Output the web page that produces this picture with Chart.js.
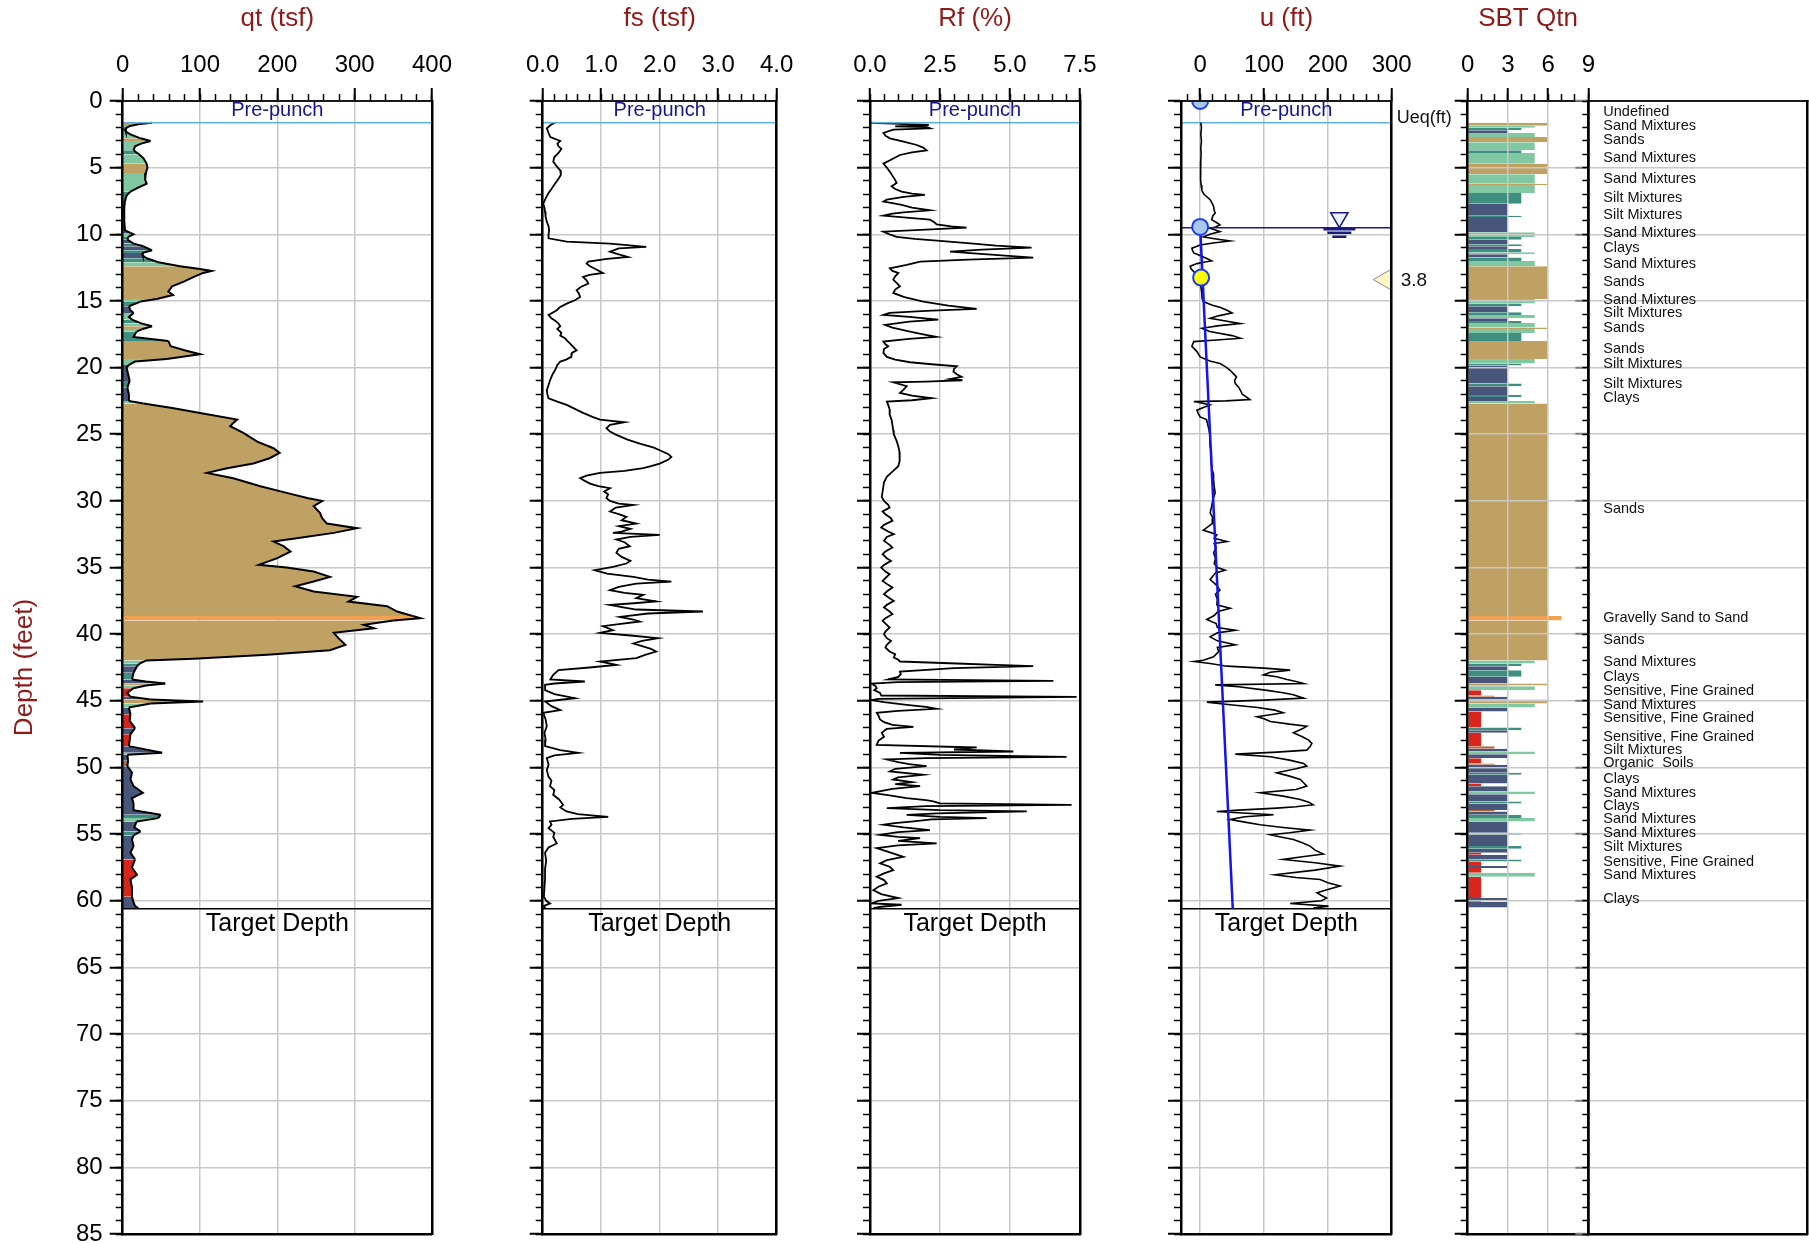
<!DOCTYPE html>
<html><head><meta charset="utf-8"><title>CPT log</title>
<script src="https://cdn.jsdelivr.net/npm/chart.js@4.4.1/dist/chart.umd.min.js"></script>
<style>
html,body{margin:0;padding:0;background:#fff}
#wrap{position:relative;width:1809px;height:1243px;overflow:hidden;background:#fff}
#wrap canvas{position:absolute;left:0;top:0}
</style></head><body><div id="wrap"></div>
<script>
// ---------------- DATA ----------------
const prePunchDepth = 1.63;
const targetDepth = 60.6;
const waterTableDepth = 9.5;

const qtDepth = [
1.63,1.75,1.9,2.1,2.3,2.5,2.8,3.0,3.2,3.4,
3.7,4.0,4.3,4.7,5.0,5.4,5.9,6.2,6.5,6.8,
7.1,7.5,8.0,9.0,9.7,9.9,10.0,10.2,10.4,10.7,
10.9,11.2,11.4,11.6,11.8,12.1,12.4,12.6,12.75,12.9,
13.2,13.55,13.9,14.3,14.55,14.85,15.05,15.4,15.7,15.9,
16.2,16.4,16.7,16.9,17.1,17.3,17.7,18.0,18.4,18.7,
19.0,19.2,19.35,19.55,19.8,20.0,20.5,21.0,21.5,22.0,
22.5,22.7,23.05,23.4,23.9,24.15,24.4,24.9,25.55,26.05,
26.4,26.8,27.2,27.55,27.9,28.3,28.9,29.4,29.8,30.0,
30.4,30.9,31.3,31.7,32.05,32.4,32.8,33.05,33.4,33.8,
34.3,34.8,35.0,35.3,35.7,36.05,36.4,36.8,37.2,37.55,
37.9,38.3,38.63,38.8,38.98,39.3,39.55,39.9,40.3,40.8,
41.2,41.55,41.85,41.98,42.2,42.4,42.9,43.4,43.55,43.7,
43.85,44.05,44.4,44.7,44.9,45.05,45.2,45.5,46.0,46.5,
47.05,47.5,48.0,48.4,48.9,49.05,49.5,49.9,50.4,50.9,
51.4,51.9,52.3,52.7,53.2,53.55,53.8,54.05,54.5,54.8,
55.1,55.4,55.9,56.4,56.9,57.5,58.05,58.4,59.0,59.7,
60.1,60.4,60.55];
const qtValue = [
38,20,8,3,4,10,23,36,24,16,
14,21,27,31,32,30,29,31,20,10,
5,3,2,2,3,10,14,7,6,14,
27,38,25,26,31,46,74,100,115,104,
92,79,64,59,65,44,23,8,10,14,
8,12,25,38,26,18,14,59,62,80,
100,75,57,16,8,5,7,9,6,8,
8,27,66,100,148,143,139,156,174,195,
203,190,169,135,109,143,178,212,240,258,
247,255,258,264,303,273,225,195,208,217,
200,176,212,247,268,247,223,247,303,292,
342,355,375,385,350,312,325,273,279,288,
268,187,92,30,22,18.5,14,12,30,55,
30,14,6,10,36,104,36,8,10,9,
16,10,9,8,51,6,7,6,12,10,
14,26,12,14,14,49,46,18,15,23,
14,12,14,10,16,12,18.5,10,12,12,
14,16,20];

const fsDepth = [
1.63,1.75,2.05,2.4,2.7,3.0,3.2,3.4,3.6,3.9,
4.2,4.55,4.9,5.2,5.55,5.9,6.2,6.6,6.9,7.3,
7.7,8.0,8.3,8.7,9.05,9.4,9.7,10.0,10.3,10.55,
10.7,10.95,11.05,11.3,11.5,11.7,11.85,12.05,12.2,12.4,
12.6,12.9,13.05,13.2,13.45,13.7,13.95,14.2,14.45,14.7,
14.95,15.2,15.45,15.7,16.05,16.3,16.5,16.7,16.9,17.1,
17.4,17.6,17.8,18.0,18.2,18.45,18.7,18.9,19.2,19.4,
19.55,19.8,20.2,20.5,20.9,21.3,21.7,22.0,22.3,22.55,
22.8,23.1,23.4,23.7,23.9,24.1,24.3,24.55,24.8,25.05,
25.4,25.7,26.0,26.2,26.5,26.7,26.9,27.2,27.4,27.55,
27.75,27.9,28.1,28.3,28.5,28.7,28.9,29.05,29.3,29.5,
29.8,30.0,30.2,30.3,30.5,30.8,31.0,31.2,31.45,31.7,
31.9,32.1,32.3,32.4,32.55,32.7,32.9,33.1,33.4,33.6,
33.9,34.2,34.5,34.7,34.95,35.2,35.45,35.7,35.9,36.05,
36.2,36.45,36.7,36.9,37.05,37.3,37.55,37.7,37.8,38.0,
38.15,38.3,38.45,38.7,38.9,39.05,39.25,39.4,39.7,39.9,
40.1,40.3,40.5,40.7,40.9,41.1,41.3,41.55,41.8,42.05,
42.3,42.5,42.7,43.05,43.4,43.55,43.7,43.8,44.2,44.5,
44.8,45.05,45.4,45.7,45.9,46.4,46.9,47.4,47.9,48.4,
48.7,48.9,49.1,49.3,49.8,50.2,50.7,51.0,51.4,51.7,
52.05,52.4,52.8,53.0,53.3,53.5,53.7,53.85,54.05,54.3,
54.55,54.9,55.2,55.7,56.0,56.4,57.0,57.6,58.4,59.0,
59.7,60.0,60.2,60.4,60.55];
const fsValue = [
0.21,0.15,0.07,0.1,0.13,0.3,0.25,0.27,0.32,0.27,
0.2,0.18,0.24,0.3,0.31,0.26,0.21,0.15,0.1,0.05,
0.01,0.03,0.04,0.05,0.07,0.1,0.11,0.1,0.1,0.41,
1.15,1.77,1.3,1.15,1.3,1.46,1.1,0.78,0.75,0.81,
0.9,1.03,0.8,0.69,0.75,0.78,0.65,0.58,0.62,0.64,
0.55,0.41,0.3,0.24,0.1,0.15,0.22,0.27,0.3,0.25,
0.32,0.3,0.38,0.42,0.47,0.52,0.58,0.5,0.49,0.4,
0.3,0.25,0.21,0.17,0.13,0.1,0.07,0.08,0.1,0.25,
0.41,0.55,0.69,0.85,0.98,1.4,1.15,1.09,1.15,1.26,
1.45,1.66,1.9,2.0,2.15,2.2,2.15,2.0,1.85,1.72,
1.4,0.98,0.75,0.64,0.72,0.81,0.95,1.15,1.05,1.12,
1.09,1.15,1.3,1.55,1.25,1.15,1.3,1.43,1.35,1.6,
1.3,1.5,1.35,1.2,2.0,1.5,1.26,1.4,1.49,1.3,
1.26,1.35,1.5,1.43,1.2,0.89,1.1,1.55,1.8,2.2,
1.6,1.3,1.15,1.4,1.72,1.6,1.94,1.5,1.15,1.4,
1.6,2.74,1.8,1.32,1.55,1.66,1.3,1.03,1.2,0.98,
1.5,1.97,1.7,1.55,1.7,1.85,1.94,1.75,1.6,0.98,
1.26,0.8,0.27,0.18,0.13,0.72,0.2,0.04,0.04,0.2,
0.55,0.04,0.15,0.3,0.01,0.05,0.07,0.03,0.05,0.04,
0.3,0.61,0.2,0.07,0.1,0.07,0.1,0.15,0.125,0.2,
0.18,0.28,0.35,0.3,0.41,0.6,1.12,0.5,0.125,0.15,
0.1,0.2,0.18,0.24,0.1,0.04,0.06,0.04,0.04,0.03,
0.02,0.06,0.125,0.01,0.05];

const rfDepth = [
1.63,1.7,1.8,1.9,1.95,2.05,2.15,2.4,2.6,2.8,
3.05,3.3,3.5,3.7,3.85,4.05,4.35,4.7,5.0,5.3,
5.6,5.9,6.15,6.4,6.6,6.8,6.95,7.05,7.2,7.4,
7.55,7.7,7.8,8.0,8.2,8.35,8.45,8.6,8.75,8.9,
9.1,9.25,9.4,9.5,9.65,9.8,10.0,10.2,10.35,10.5,
10.7,10.85,11.0,11.15,11.3,11.5,11.75,11.9,12.05,12.3,
12.55,12.75,12.9,13.15,13.4,13.65,13.9,14.15,14.4,14.7,
15.05,15.35,15.6,15.75,15.9,16.05,16.2,16.4,16.55,16.8,
17.0,17.3,17.5,17.7,17.85,18.05,18.25,18.4,18.6,18.9,
19.2,19.4,19.6,19.75,19.9,20.1,20.3,20.5,20.7,20.85,
20.95,21.05,21.1,21.4,21.65,21.9,22.1,22.3,22.45,22.55,
22.8,23.2,23.5,23.9,24.3,24.7,25.0,25.5,25.9,26.3,
26.7,27.0,27.4,27.8,28.2,28.6,28.9,29.3,29.7,30.0,
30.3,30.5,30.8,31.0,31.3,31.5,31.8,32.0,32.3,32.5,
32.7,33.0,33.3,33.5,33.8,34.0,34.3,34.5,34.8,35.0,
35.3,35.5,35.8,36.0,36.3,36.5,36.8,37.0,37.3,37.5,
37.8,38.0,38.3,38.5,38.8,39.0,39.3,39.5,39.8,40.0,
40.3,40.5,40.8,41.0,41.3,41.5,41.75,41.9,42.05,42.2,
42.3,42.4,42.55,42.8,43.0,43.2,43.4,43.5,43.6,43.7,
43.9,44.05,44.2,44.4,44.6,44.7,44.85,44.95,45.1,45.3,
45.45,45.6,45.75,45.9,46.1,46.4,46.6,46.8,46.95,47.1,
47.4,47.7,48.0,48.3,48.5,48.65,48.8,48.9,49.05,49.2,
49.3,49.4,49.6,49.75,49.9,50.1,50.3,50.55,50.75,50.9,
51.1,51.25,51.4,51.6,51.9,52.1,52.3,52.45,52.55,52.7,
52.8,52.9,53.05,53.2,53.3,53.45,53.55,53.7,53.8,53.9,
54.05,54.2,54.3,54.5,54.7,54.85,55.05,55.2,55.3,55.5,
55.7,55.85,56.05,56.3,56.5,56.7,56.95,57.2,57.45,57.7,
57.95,58.2,58.45,58.7,58.95,59.2,59.5,59.8,60.0,60.2,
60.3,60.45,60.55];
const rfValue = [
0,0.83,2.1,0.9,2.0,2.14,0.83,0.48,0.55,0.71,
1.2,1.67,1.9,2.02,1.5,1.07,0.8,0.48,0.6,0.71,
0.8,0.89,0.95,0.77,0.9,1.13,1.5,1.96,1.2,0.6,
0.48,0.9,1.13,1.5,2.14,1.2,0.8,0.48,1.3,2.14,
2.3,2.38,2.9,3.45,2.0,0.48,0.7,0.95,1.6,2.5,
3.69,4.5,5.77,4.0,2.86,4.2,5.83,3.5,1.79,1.31,
0.71,0.8,1.01,0.9,0.83,0.95,1.07,0.9,0.83,1.2,
1.9,2.8,3.81,2.0,0.7,0.48,1.4,2.44,1.4,0.54,
0.8,1.43,1.9,2.38,1.4,0.48,0.55,0.65,0.5,0.48,
0.6,0.9,1.43,2.2,3.1,3.0,2.98,3.1,3.27,2.86,
3.3,2.0,0.83,1.31,1.2,1.07,1.5,2.2,1.5,0.6,
0.65,0.71,0.7,0.77,0.8,0.83,0.85,0.95,1.01,1.05,
1.07,1.05,1.01,0.8,0.6,0.5,0.48,0.45,0.42,0.5,
0.65,0.7,0.45,0.55,0.75,0.8,0.5,0.4,0.65,0.85,
0.6,0.5,0.7,0.8,0.55,0.45,0.6,0.75,0.5,0.4,
0.55,0.7,0.55,0.45,0.65,0.8,0.6,0.5,0.7,0.85,
0.6,0.5,0.7,0.8,0.55,0.45,0.6,0.7,0.55,0.5,
0.6,0.75,0.6,0.55,0.7,0.9,0.85,1.0,1.07,3.1,
4.5,5.83,3.0,1.07,1.1,1.01,0.65,6.55,1.0,0.06,
0.2,0.24,0.15,0.36,0.4,7.38,0.3,0.06,0.5,1.31,
2.0,2.38,1.0,0.24,0.3,0.36,0.5,0.8,1.55,0.6,
0.42,0.5,0.3,0.24,3.81,3.0,5.12,1.07,2.5,7.02,
2.0,0.6,1.0,1.4,2.02,0.9,0.71,1.9,1.0,0.83,
1.5,0.9,1.79,0.8,0.06,0.7,1.31,2.0,2.26,2.5,
7.2,2.0,0.6,2.5,5.6,2.4,1.31,2.5,4.17,2.2,
1.55,0.8,0.48,1.2,2.14,1.0,0.36,1.0,1.79,1.0,
2.38,1.0,0.24,0.6,0.9,1.19,0.6,0.36,0.7,0.83,
0.5,0.24,0.5,0.6,0.3,0.12,0.4,1.01,0.3,0.06,
1.13,0.4,0.12];

const uDepth = [
1.63,2.0,2.5,3.0,3.5,4.0,4.5,5.0,5.5,5.9,
6.3,6.7,7.0,7.4,7.7,7.9,8.2,8.4,8.6,8.9,
9.1,9.3,9.45,9.55,9.7,9.8,10.0,10.2,10.35,10.5,
10.65,10.8,11.05,11.2,11.4,11.55,11.7,11.85,12.0,12.1,
12.2,12.4,12.6,12.8,13.1,13.4,13.9,14.4,14.8,15.05,
15.3,15.5,15.7,15.9,16.1,16.3,16.5,16.7,16.85,17.05,
17.3,17.6,17.8,17.95,18.05,18.4,18.8,19.2,19.5,19.7,
19.95,20.2,20.45,20.7,20.95,21.2,21.45,21.7,22.0,22.2,
22.4,22.5,22.55,22.65,22.8,23.0,23.2,23.45,23.7,23.9,
24.3,24.7,25.2,25.7,26.2,26.7,27.2,27.7,28.0,28.4,
28.9,29.4,29.9,30.4,30.9,31.3,31.7,32.2,32.4,32.55,
32.8,33.05,33.2,33.5,33.9,34.3,34.7,35.0,35.2,35.4,
35.9,36.3,36.7,37.0,37.4,37.8,38.05,38.3,38.6,38.9,
39.2,39.5,39.7,39.9,40.2,40.5,40.8,41.0,41.3,41.7,
41.95,42.05,42.2,42.4,42.55,42.7,42.85,43.05,43.2,43.4,
43.55,43.7,43.8,43.95,44.2,44.4,44.55,44.8,44.95,45.1,
45.3,45.5,45.7,45.9,46.05,46.2,46.35,46.55,46.75,46.9,
47.1,47.4,47.7,47.95,48.2,48.45,48.7,48.85,49.0,49.2,
49.45,49.7,49.9,50.1,50.4,50.65,50.9,51.15,51.4,51.65,
51.9,52.15,52.4,52.6,52.8,52.95,53.05,53.2,53.3,53.45,
53.55,53.7,53.9,54.1,54.3,54.5,54.7,54.9,55.05,55.25,
55.4,55.65,55.9,56.2,56.5,56.7,56.9,57.15,57.4,57.7,
58.05,58.25,58.4,58.65,58.9,59.15,59.4,59.6,59.8,60.0,
60.2,60.4,60.55];
const uValue = [
1,2,1,2,1,1.5,1,0.5,1,0.5,
1.5,2.6,6,15.7,19,21,22,23.5,20,18,
25,31,24,15.7,25,31,15,5,25,47,
20,0,-13,-12,-10,-2,5,12,18,5,
-5,-15.7,-14,-10,-4,0,1,2.6,3,5,
18,32,42,50,30,15.7,40,63,30,2.6,
15,50,63,20,-10,-13,-5,0,15,31,
40,47,52,57,54,55,60,63,66,72,
78,40,-10,2,15.7,5,-5,-3,0,10,
12,14,16,15,17,18,17,19,21,21,
22,23.5,20,18,15.7,20,19,5,18,26,
22,42,22,25,21,24,22,27,39,24,
15.7,25,31,24,27,26,47,28,22,10.4,
25,27,55,27,15.7,27,55,27,29,21,
5,-10,15.7,42,100,141,110,99,120,136,
150,162,23.5,60,102,130,146,162,100,10.4,
47,90,117,130,110,89,100,110,140,167,
160,146,160,170,175,172,167,120,55,110,
140,162,167,150,120,140,157,162,167,150,
94,130,157,170,177,150,120,60,26,80,
115,70,47,70,94,130,172,140,110,130,
146,160,172,180,193,160,130,180,219,180,
117,150,188,200,219,200,183,190,198,190,
141,201,177];

// hydrostatic pressure line (ft of water), from water table to target depth
const hydroDepth = [9.5, 60.6];
const hydroU = [0, 51.1];
// dissipation / water-table markers
const markerDepth = [0, 9.45];
const markerU = [0, 0];
const ueqDepth = 13.4;
const ueqValue = 3.8;
const yellowDepth = [13.25];
const yellowU = [1.5];

// SBT Qtn layers (top depth of each layer, zone number); last layer ends at sbtEnd
const sbtTop = [
1.63,1.85,2.0,2.2,2.4,2.7,3.1,3.7,3.9,4.7,
5.5,6.2,6.3,6.9,7.7,8.6,8.7,9.85,10.2,10.4,
10.75,10.9,11.1,11.35,11.5,11.75,12.0,12.4,14.85,15.2,
15.4,15.85,16.05,16.3,16.5,16.65,17.0,17.1,17.4,18.0,
19.35,19.7,19.85,21.2,21.4,22.05,22.2,22.5,22.7,38.63,
38.98,41.98,42.2,42.4,42.7,43.2,43.7,43.85,43.9,44.2,
44.6,44.7,44.9,45.2,45.5,45.8,47.0,47.2,47.4,48.4,
48.6,48.8,49.0,49.3,49.7,49.8,50.4,50.55,51.2,51.4,
51.8,52.0,52.55,52.7,53.2,53.3,53.55,53.8,54.05,54.9,
55.05,55.9,56.1,56.4,56.55,56.9,57.05,57.4,57.55,57.9,
58.2,59.8,60.0,60.1];
const sbtZone = [
6,5,4,3,5,6,5,4,5,6,
5,6,5,4,3,4,3,5,4,3,
4,3,4,5,3,4,5,6,5,4,
3,4,5,3,4,5,6,5,4,6,
5,4,3,4,3,4,3,5,6,7,
6,5,4,3,4,3,6,3,5,1,
2,3,6,5,3,1,4,3,1,2,
3,5,3,1,2,3,4,3,1,3,
5,3,4,3,2,3,4,5,3,4,
3,4,3,1,3,4,1,3,1,5,
1,3,1,3];
const sbtEnd = 60.5;

const sbtLabelDepth = [0.8,1.9,2.9,4.25,5.85,7.3,8.55,9.9,11.05,12.2,
13.6,14.9,15.9,17.05,18.6,19.7,21.2,22.3,30.6,38.75,
40.4,42.05,43.25,44.3,45.3,46.3,47.7,48.7,49.7,50.85,
51.9,52.9,53.9,54.9,56.0,57.1,58.1,59.9];
const sbtLabelText = ['Undefined','Sand Mixtures','Sands','Sand Mixtures','Sand Mixtures','Silt Mixtures','Silt Mixtures','Sand Mixtures','Clays','Sand Mixtures',
'Sands','Sand Mixtures','Silt Mixtures','Sands','Sands','Silt Mixtures','Silt Mixtures','Clays','Sands','Gravelly Sand to Sand',
'Sands','Sand Mixtures','Clays','Sensitive, Fine Grained','Sand Mixtures','Sensitive, Fine Grained','Sensitive, Fine Grained','Silt Mixtures','Organic  Soils','Clays',
'Sand Mixtures','Clays','Sand Mixtures','Sand Mixtures','Silt Mixtures','Sensitive, Fine Grained','Sand Mixtures','Clays'];

// ---------------- STYLE / LAYOUT ----------------
const W = 1809, H = 1243, CANVAS_H = 1320, PLOT_TOP = 101, PLOT_BOTTOM = 1234;
const FONT = '"Liberation Sans", Arial, Helvetica, sans-serif';
const TITLE_COLOR = '#8e1a1a';
const GRID = '#c8c8c8';
const zoneColor = {1:'#d8261d', 2:'#b5683b', 3:'#47567a', 4:'#3f8f80', 5:'#7fc8a1', 6:'#bfa164', 7:'#f0a04e'};

Chart.defaults.font.family = FONT;
Chart.defaults.color = '#000';

function zoneAt(d) {
  let z = sbtZone[0];
  for (let i = 0; i < sbtTop.length; i++) { if (sbtTop[i] <= d) z = sbtZone[i]; else break; }
  return z;
}
const pts = (depths, values) => depths.map((d, i) => ({x: values[i], y: d}));

function makeCanvas() {
  const c = document.createElement('canvas');
  c.width = W; c.height = CANVAS_H;
  c.style.width = W + 'px'; c.style.height = CANVAS_H + 'px';
  document.getElementById('wrap').appendChild(c);
  return c;
}

function decorPlugin(o) {
  return {
    id: 'decor',
    afterDraw(chart) {
      const {ctx, chartArea: a} = chart;
      const y = chart.scales.y;
      const cx = (a.left + a.right) / 2;
      ctx.save();
      ctx.textAlign = 'center';
      ctx.textBaseline = 'middle';
      if (o.title) {
        ctx.font = '26px ' + FONT; ctx.fillStyle = TITLE_COLOR;
        ctx.fillText(o.title, cx, 19);
      }
      if (o.prePunch) {
        ctx.font = '20px ' + FONT; ctx.fillStyle = '#16168c';
        ctx.fillText('Pre-punch', cx, (y.getPixelForValue(0) + y.getPixelForValue(prePunchDepth)) / 2 - 1);
      }
      if (o.target) {
        ctx.font = '25px ' + FONT; ctx.fillStyle = '#000';
        ctx.fillText('Target Depth', cx, y.getPixelForValue(targetDepth) + 15);
      }
      if (o.extra) o.extra(chart, ctx);
      ctx.restore();
    }
  };
}

function buildScales(p) {
  const s = {};
  s.x = {type:'linear', axis:'x', position:'top', min:p.min, max:p.max, weight:2,
    ticks:{display:!!p.major, stepSize:p.major || 1, includeBounds:false, autoSkip:false, maxRotation:0, minRotation:0,
      padding:8, color:'#000', font:{family:FONT, size:24}, callback:p.fmt || (v => String(v))},
    grid:{display:!!p.major, drawOnChartArea:true, color:GRID, lineWidth:1.5, drawTicks:true, tickLength:13,
      tickColor:'#000', tickWidth:2, z:p.gridZ || -1},
    border:{display:true, color:'#1a1a1a', width:2, z:2},
    afterFit: sc => { sc.height = PLOT_TOP; }};
  if (p.minor) {
    s.xMinor = {type:'linear', axis:'x', position:'top', min:p.min, max:p.max, weight:1,
      ticks:{display:false, stepSize:p.minor, includeBounds:false},
      grid:{display:true, drawOnChartArea:false, drawTicks:true, tickLength:7, tickColor:'#000', tickWidth:1.5},
      border:{display:false},
      afterFit: sc => { sc.height = 0; }};
  }
  s.y = {type:'linear', axis:'y', position:'left', reverse:true, min:0, max:85, weight:2,
    ticks:{display:!!p.yLabels, stepSize:5, includeBounds:false, autoSkip:false, padding:7, color:'#000', font:{family:FONT, size:24}},
    grid:{display:true, drawOnChartArea:true, color:GRID, lineWidth:1.5, drawTicks:true, tickLength:13,
      tickColor:p.yTickColor || '#000', tickWidth:2, z:p.gridZ || -1},
    border:{display:true, color:'#000', width:2.5, z:2},
    title: p.yTitle ? {display:true, text:p.yTitle, color:TITLE_COLOR, font:{family:FONT, size:26}, padding:{top:9, bottom:0}} : {display:false},
    afterFit: sc => { sc.width = p.L; }};
  s.yMinor = {type:'linear', axis:'y', position:'left', reverse:true, min:0, max:85, weight:1,
    ticks:{display:false, stepSize:1, includeBounds:false},
    grid:{display:true, drawOnChartArea:false, drawTicks:true, tickLength:p.yMinorLen || 7, tickColor:'#000', tickWidth:1.5},
    border:{display:false},
    afterFit: sc => { sc.width = 0; }};
  s.yRight = {type:'linear', axis:'y', position:'right', reverse:true, min:0, max:85,
    ticks:{display:false}, grid:{display:false, drawTicks:false},
    border:{display:true, color:'#000', width:2.5, z:2},
    afterFit: sc => { sc.width = 0; }};
  s.xBottom = {type:'linear', axis:'x', position:'bottom', min:p.min, max:p.max,
    ticks:{display:false}, grid:{display:false, drawTicks:false},
    border:{display:true, color:'#000', width:2.5, z:2},
    afterFit: sc => { sc.height = 0; }};
  return s;
}

function panelChart(p, datasets, decor, extraScales) {
  const scales = Object.assign(buildScales(p), extraScales || {});
  return new Chart(makeCanvas(), {
    type: 'line',
    data: {datasets},
    options: {
      indexAxis: 'y', responsive: false, animation: false, devicePixelRatio: 1, events: [],
      layout: {autoPadding: false, padding: {left: 0, top: 0, right: W - p.R, bottom: CANVAS_H - PLOT_BOTTOM}},
      elements: {point: {radius: 0}, line: {tension: 0}},
      plugins: {legend: {display: false}, tooltip: {enabled: false}, title: {display: false}},
      scales
    },
    plugins: [decorPlugin(decor)]
  });
}

const lineDs = (data, color, width, order, extra) => Object.assign({data, borderColor: color, borderWidth: width,
  pointRadius: 0, fill: false, order, xAxisID: 'x', yAxisID: 'y'}, extra || {});

// ---------------- PANELS ----------------
const P = {
  qt:  {L:122.7,  R:432,    min:0,   max:400, major:100, minor:20,  fmt:v => String(v), yLabels:true, yTitle:'Depth (feet)'},
  fs:  {L:542.7,  R:776.7,  min:0,   max:4,   major:1,   minor:0.2, fmt:v => Number(v).toFixed(1)},
  rf:  {L:870,    R:1080,   min:0,   max:7.5, major:2.5, minor:0.5, fmt:v => Number(v).toFixed(1)},
  u:   {L:1181,   R:1391.7, min:-30, max:300, major:100, minor:20,  fmt:v => String(v)},
  sbt: {L:1467.7, R:1588.3, min:0,   max:9,   major:3,   minor:1,   fmt:v => String(v), gridZ:1},
  lab: {L:1588.3, R:1807.7, min:0,   max:1,   yTickColor:'#808080', yMinorLen:6}
};
const prepunchLine = p => lineDs(pts([prePunchDepth, prePunchDepth], [p.min, p.max]), '#5fb1e3', 1.5, 0);
const targetLine = p => lineDs(pts([targetDepth, targetDepth], [p.min, p.max]), '#000', 1.5, 1);

// qt
panelChart(P.qt, [
  prepunchLine(P.qt), targetLine(P.qt),
  lineDs(pts(qtDepth, qtValue), '#000', 2, 2, {
    fill: 'origin', backgroundColor: zoneColor[6],
    segment: {backgroundColor: c => zoneColor[zoneAt((qtDepth[c.p0DataIndex] + qtDepth[c.p1DataIndex]) / 2)]}
  })
], {title:'qt (tsf)', prePunch:true, target:true});

// fs
panelChart(P.fs, [prepunchLine(P.fs), targetLine(P.fs), lineDs(pts(fsDepth, fsValue), '#000', 1.8, 2)],
  {title:'fs (tsf)', prePunch:true, target:true});

// Rf
panelChart(P.rf, [prepunchLine(P.rf), targetLine(P.rf), lineDs(pts(rfDepth, rfValue), '#000', 1.8, 2)],
  {title:'Rf (%)', prePunch:true, target:true});

// u
const pointDs = (data, style, order, extra) => Object.assign({data, showLine:false, order, xAxisID:'x', yAxisID:'y',
  borderColor:'rgba(0,0,0,0)', pointStyle: style}, extra);
panelChart(P.u, [
  pointDs(pts(markerDepth, markerU), 'circle', 0, {pointRadius:8, pointBackgroundColor:'#a9c7ef', pointBorderColor:'#1d3bf0', pointBorderWidth:2, clip:0}),
  pointDs(pts(yellowDepth, yellowU), 'circle', 0, {pointRadius:8, pointBackgroundColor:'#ffff00', pointBorderColor:'#1d3bf0', pointBorderWidth:2}),
  pointDs(pts([ueqDepth], [290]), 'triangle', 0, {pointRadius:12, pointRotation:-90, pointBackgroundColor:'#fdf6c6', pointBorderColor:'#8a8a8a', pointBorderWidth:1, clip:false}),
  pointDs(pts([8.75], [218]), 'triangle', 0, {pointRadius:10, pointRotation:180, pointBackgroundColor:'#e9f4fc', pointBorderColor:'#1a1a80', pointBorderWidth:1.5}),
  pointDs(pts([9.62, 9.88, 10.18], [218, 218, 218]), 'line', 0, {pointRadius:[16, 12, 7], pointBorderColor:'#1a1a80', pointBorderWidth:2.5}),
  lineDs(pts(hydroDepth, hydroU), '#1414f0', 2.5, 1),
  lineDs(pts([waterTableDepth, waterTableDepth], [P.u.min, P.u.max]), '#1a1a80', 1.5, 2),
  lineDs(pts(uDepth, uValue), '#000', 1.6, 3),
  lineDs(pts([prePunchDepth, prePunchDepth], [P.u.min, P.u.max]), '#5fb1e3', 1.5, 4),
  lineDs(pts([targetDepth, targetDepth], [P.u.min, P.u.max]), '#000', 1.5, 5)
], {title:'u (ft)', prePunch:true, target:true, extra:(chart, ctx) => {
  const a = chart.chartArea, y = chart.scales.y;
  ctx.textAlign = 'left'; ctx.textBaseline = 'middle'; ctx.fillStyle = '#111';
  ctx.font = '18px ' + FONT;
  ctx.fillText('Ueq(ft)', a.right + 5, a.top + 17);
  ctx.font = '19px ' + FONT;
  ctx.fillText(ueqValue.toFixed(1), a.right + 9, y.getPixelForValue(ueqDepth) + 1);
}});

// SBT Qtn bars: one filled dataset per zone
function zoneLayers(z) {
  const out = [];
  for (let i = 0; i < sbtTop.length; i++) {
    if (sbtZone[i] !== z) continue;
    const top = sbtTop[i], bot = i + 1 < sbtTop.length ? sbtTop[i + 1] : sbtEnd;
    out.push({x: z, y: top}, {x: z, y: bot}, {x: null, y: bot});
  }
  return out;
}
panelChart(P.sbt, [1, 2, 3, 4, 5, 6, 7].map(z => lineDs(zoneLayers(z), 'rgba(0,0,0,0)', 0, z,
  {fill: 'origin', backgroundColor: zoneColor[z], spanGaps: false})), {title:'SBT Qtn'});

// SBT label column
panelChart(P.lab, [], {}, {
  yLab: {type:'linear', axis:'y', position:'left', reverse:true, min:0, max:85, weight:0,
    afterBuildTicks: sc => { sc.ticks = sbtLabelDepth.map(v => ({value: v})); },
    ticks:{display:true, mirror:true, padding:15, autoSkip:false, color:'#111', font:{family:FONT, size:14.5},
      callback:(v, i) => sbtLabelText[i]},
    grid:{display:false, drawTicks:false}, border:{display:false},
    afterFit: sc => { sc.width = 0; }}
});
</script>
</body></html>
